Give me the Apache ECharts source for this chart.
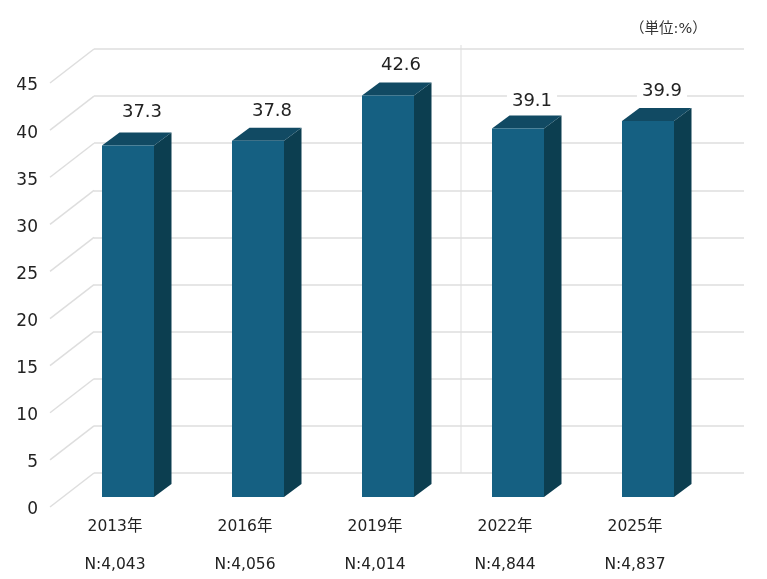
<!DOCTYPE html>
<html><head><meta charset="utf-8">
<style>html,body{margin:0;padding:0;background:#fff}#c{width:767px;height:579px}</style>
<script src="https://cdn.jsdelivr.net/npm/echarts@6/dist/echarts.min.js"></script>
</head><body><div id="c"></div>
<script>
const years = ['2013年','2016年','2019年','2022年','2025年'];
const sampleSizes = ['N:4,043','N:4,056','N:4,014','N:4,844','N:4,837'];
const values = [37.3,37.8,42.6,39.1,39.9];
const yTicks = [0,5,10,15,20,25,30,35,40,45];
const labelNudgeX = [1,1,0,1,1];
const labelNudgeY = [-3,0,0,3,0];

const FONT = '"DejaVu Sans", "Noto Sans CJK JP", sans-serif';
const chart = echarts.init(document.getElementById('c'), null, {renderer:'canvas'});
const barW = 52, depthX = 17.5, depthY = 13, wallDX = 44, wallDY = 34;
const frontDX = -57, frontDY = 24;

function renderBar(params, api){
  const i = api.value(0), v = api.value(1);
  const top = api.coord([i, v]), base = api.coord([i, 0]);
  const x = top[0] + frontDX, y0 = base[1] + frontDY, y1 = top[1] + frontDY;
  return {type:'group', children:[
    {type:'polygon', shape:{points:[[x+barW,y0],[x+barW+depthX,y0-depthY],[x+barW+depthX,y1-depthY],[x+barW,y1]]}, style:{fill:'#0c3e50'}},
    {type:'polygon', shape:{points:[[x,y1],[x+depthX,y1-depthY],[x+barW+depthX,y1-depthY],[x+barW,y1]]}, style:{fill:'#114a63'}},
    {type:'rect', shape:{x:x,y:y1,width:barW,height:y0-y1}, style:{fill:'#156082'}},
    {type:'text', x:x+barW/2+13+labelNudgeX[i], y:y1-30+labelNudgeY[i],
      style:{text:v.toFixed(1), font:'18px '+FONT, fill:'#222', align:'center', verticalAlign:'middle',
             backgroundColor:'#fff', padding:[0,5]}}
  ]};
}
function renderDiag(params, api){
  const y = api.coord([0, api.value(1)])[1], x = params.coordSys.x;
  return {type:'line', shape:{x1:x,y1:y,x2:x-wallDX,y2:y+wallDY}, style:{stroke:'#dedede',lineWidth:1.5}, silent:true};
}

chart.setOption({
  animation:false,
  backgroundColor:'#fff',
  grid:[
    {left:94, top:49, width:650, height:424, outerBoundsMode:'none'},
    {left:50, top:86, width:650, height:424, outerBoundsMode:'none'}
  ],
  xAxis:[
    {type:'category', gridIndex:0, data:years, axisLine:{show:false}, axisTick:{show:false}, axisLabel:{show:false}},
    {type:'category', gridIndex:1, data:years.map((y,i)=>y+'\n'+sampleSizes[i]),
     axisLine:{show:false}, axisTick:{show:false},
     axisLabel:{margin:-2, interval:0, color:'#222', fontFamily:FONT, fontSize:15.5, lineHeight:38}}
  ],
  yAxis:[
    {type:'value', gridIndex:0, min:0, max:45, interval:5, axisLine:{show:false}, axisTick:{show:false}, axisLabel:{show:false},
     splitLine:{lineStyle:{color:'#dedede',width:1.5}}},
    {type:'value', gridIndex:1, min:0, max:45, interval:5, axisLine:{show:false}, axisTick:{show:false}, splitLine:{show:false},
     axisLabel:{margin:12, color:'#222', fontFamily:FONT, fontSize:17}}
  ],
  series:[
    {type:'custom', xAxisIndex:0, yAxisIndex:0, z:1, silent:true, renderItem:renderDiag, data:yTicks.map(t=>[0,t])},
    {type:'custom', xAxisIndex:0, yAxisIndex:0, z:3, silent:true, renderItem:renderBar, clip:false, data:values.map((v,i)=>[i,v])}
  ],
  graphic:[
    {type:'line', z:0, shape:{x1:461,y1:45,x2:461,y2:473}, style:{stroke:'#e8e8e8',lineWidth:1.5}},
    {type:'text', left:630, top:22, style:{text:'（単位:%）', font:'14.5px '+FONT, fill:'#333'}}
  ]
});
</script></body></html>
